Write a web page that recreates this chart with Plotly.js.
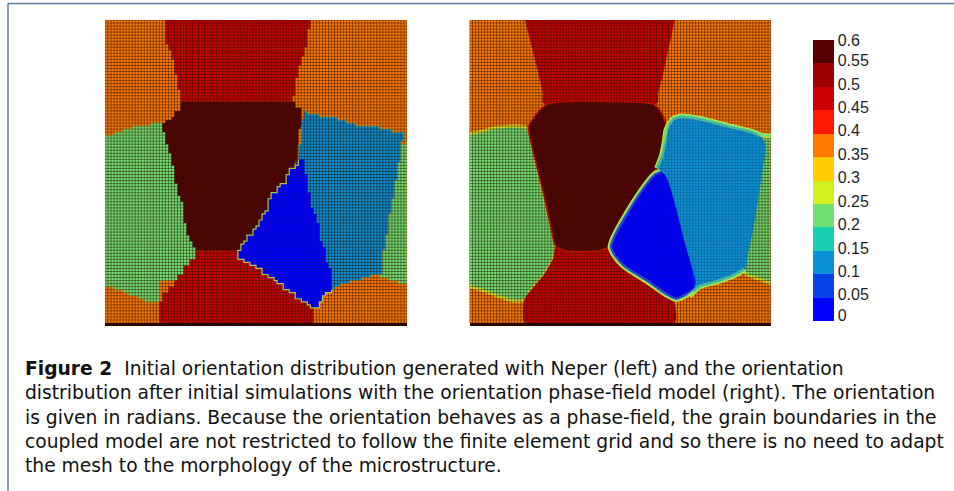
<!DOCTYPE html>
<html><head><meta charset="utf-8">
<script src="https://cdn.plot.ly/plotly-3.0.1.min.js"></script>
<style>html,body{margin:0;padding:0;background:#fff}#c{width:954px;height:491px}</style>
</head><body><div id="c"></div>
<script>
// Colour bar
const binColors=['#0000ff','#0a42ea','#0890d8','#18d0b0','#72e072','#d2f020','#ffcc00','#ff7800','#ff1800','#cc0000','#9c0000','#560000'];
const tickValues=[0,0.05,0.1,0.15,0.2,0.25,0.3,0.35,0.4,0.45,0.5,0.55,0.6];
const tickLabels=['0','0.05','0.1','0.15','0.2','0.25','0.3','0.35','0.4','0.45','0.5','0.55','0.6'];
// Grain orientations (radians)
const oOrange=0.375,oRed=0.475,oMaroon=0.575,oGreen=0.225,oCyan=0.125,oBlue=0.025;
const meshCells=100, domainW=906, domainH=910;

// Left panel grains (Neper)
const lTopRedX=[170,178,185,193,200,205,210,215,220,226,228,560,562,573,580,588,595,603,610,618];
const lTopRedY=[0,40,70,95,120,145,160,185,210,235,250,250,225,175,135,105,80,55,30,0];
const lGreenX=[0,15,30,50,70,85,100,120,140,160,175,300,300,160,145,130,115,100,85,70,50,30,15,0];
const lGreenY=[345,343,340,330,325,321,318,315,312,310,310,400,780,848,845,842,836,830,825,820,812,805,802,800];
const rGreenX=[890,906,906,890,875,850,825,770,820];
const rGreenY=[370,362,792,790,785,775,762,670,470];
const lBotRedX=[268,402,402,420,450,470,490,505,520,537,555,572,590,605,620,622,622,165,160,160,175,190,205,220,235,250,268];
const lBotRedY=[690,690,710,715,740,750,760,770,780,795,810,822,835,845,855,880,910,910,880,850,820,800,780,760,740,715,695];
const lMaroonX=[228,560,570,585,590,588,582,600,590,570,555,545,530,520,510,490,470,450,430,402,270,262,255,248,240,234,228,220,210,205,200,195,190,182,175,175,185,195,210,228];
const lMaroonY=[250,250,260,275,290,330,370,420,455,475,490,505,525,540,570,600,630,660,690,692,685,668,650,610,570,550,530,490,460,440,420,398,375,340,330,310,300,290,275,255];
const lCyanX=[595,607,620,640,660,680,700,725,750,780,820,860,900,895,890,885,880,875,870,860,855,840,832,800,770,730,710,685,600,575,582,590];
const lCyanY=[275,280,285,288,290,295,300,308,315,320,325,335,345,362,380,430,460,485,540,580,650,690,760,773,785,795,802,810,600,430,370,320];
const lBlueX=[582,595,600,605,610,620,626,632,639,645,652,660,665,670,676,683,682,675,665,652,640,620,605,590,572,555,537,520,505,490,470,450,435,420,402,402,411,420,430,440,450,460,470,480,490,502,515,527,540,548,555,570];
const lBlueY=[420,440,460,480,520,560,585,610,635,660,680,700,725,750,768,785,810,815,825,845,860,855,845,835,822,810,795,780,770,760,750,740,728,715,710,688,674,660,645,630,615,600,585,570,540,522,505,490,475,462,450,435];

// Right panel grains (phase-field)
const pTopRedX=[167,187,207,220,222,564,567,580,597,617];
const pTopRedY=[0,80,160,220,250,250,220,170,90,0];
const pGreenX=[0,32,82,162,177,197,222,242,257,252,227,187,162,137,102,62,0];
const pGreenY=[342,335,322,320,330,420,520,610,675,715,760,810,842,845,835,820,800];
const pGreenRX=[905,875,830,780,820,889,905];
const pGreenRY=[792,780,762,700,400,352,345];
const pBotRedX=[257,422,424,452,532,612,620,617,167,162,167,227,252];
const pBotRedY=[680,680,700,740,795,845,870,910,910,855,835,760,715];
const pMaroonX=[242,542,562,582,590,584,577,562,532,502,472,442,422,417,392,302,272,257,242,222,197,180,177,192,217,242];
const pMaroonY=[250,250,260,290,315,370,405,445,490,530,575,625,660,682,692,695,688,675,610,520,420,345,320,295,265,250];
const pCyanX=[597,612,632,692,772,852,877,889,882,867,852,837,827,802,752,692,672,670,667,647,622,602,587,572,562,577,590];
const pCyanY=[315,295,288,295,315,335,350,380,440,540,630,700,750,765,785,802,818,785,740,670,570,500,465,455,445,405,350];
const pCyanTopX=[562,577,584,590,597,612,632,692,772,852,877,905];
const pCyanTopY=[445,405,370,330,315,295,288,295,315,335,345,348];
const pCyanLowX=[827,802,752,692,662];
const pCyanLowY=[750,765,785,802,830];
const pBlueX=[572,587,602,622,647,667,679,672,647,622,597,532,462,432,422,432,462,502,542,557];
const pBlueY=[455,465,500,570,670,740,785,810,830,840,830,785,740,705,680,650,595,530,475,460];
const pBlueEdgeX=[572,557,542,502,462,432,422,432,462,532,597,622,647,672];
const pBlueEdgeY=[455,460,475,530,595,650,680,705,740,785,830,840,830,815];

const captionLines=[
 '<b>Figure 2</b>\u00a0\u00a0Initial orientation distribution generated with Neper (left) and the orientation',
 'distribution after initial simulations with the orientation phase-field model (right). The orientation',
 'is given in radians. Because the orientation behaves as a phase-field, the grain boundaries in the',
 'coupled model are not restricted to follow the finite element grid and so there is no need to adapt',
 'the mesh to the morphology of the microstructure.'];

const W=954,H=491;
const colorOf=v=>binColors[Math.min(binColors.length-1,Math.floor(v/0.05))];
const alpha=(hex,a)=>{const n=parseInt(hex.slice(1),16);return `rgba(${n>>16},${(n>>8)&255},${n&255},${a})`;};
const stepX=domainW/meshCells, stepY=domainH/meshCells;
const snapX=a=>a.map(v=>Math.round(v/stepX)*stepX), snapY=a=>a.map(v=>Math.round(v/stepY)*stepY);

const colorscale=[];
binColors.forEach((c,i)=>{colorscale.push([i/12,c]);colorscale.push([(i+1)/12,c]);});
const labelLift=(v,i)=>i===0?0.0113:(i===tickValues.length-1?0:0.006);

function base(ax,showBar){
 const t={type:'heatmap',z:[[oOrange]],x0:domainW/2,dx:domainW,y0:domainH/2,dy:domainH,zmin:0,zmax:0.6,
  colorscale,showscale:showBar,hoverinfo:'skip',xaxis:'x'+ax,yaxis:'y'+ax};
 if(showBar)t.colorbar={x:813/W,xanchor:'left',xpad:0,ypad:0,y:(H-321)/H,yanchor:'bottom',lenmode:'pixels',len:280.5,
  thicknessmode:'pixels',thickness:21,outlinewidth:0,ticks:'',ticklen:0,tickmode:'array',
  tickvals:tickValues.map((v,i)=>v+labelLift(v,i)),ticktext:tickLabels,
  tickfont:{family:'Liberation Sans',size:16,color:'#1e1e1e'}};
 return t;
}
function grain(ax,x,y,val,o={}){
 return {type:'scatter',mode:o.w?'lines':'none',x:x,y:y,fill:'toself',fillcolor:alpha(colorOf(val),o.a===undefined?1:o.a),
  line:{color:o.c||colorOf(val),width:o.w||0,shape:o.shape||'linear',smoothing:o.sm||0.7},
  hoverinfo:'skip',xaxis:'x'+ax,yaxis:'y'+ax};
}
const stair=(ax,x,y,val,o={})=>grain(ax,snapX(x),snapY(y),val,Object.assign({shape:'hv'},o));
const soft=(ax,x,y,val,o={})=>grain(ax,x,y,val,Object.assign({shape:'spline'},o));
function edge(ax,x,y,color,w,shape='spline'){
 return {type:'scatter',mode:'lines',x:x,y:y,line:{color:color,width:w,shape:shape,smoothing:0.7},hoverinfo:'skip',xaxis:'x'+ax,yaxis:'y'+ax};
}
function mesh(ax){
 const x=[],y=[];
 for(let i=0;i<=meshCells;i++){x.push(i*stepX,i*stepX,null);y.push(0,domainH,null);}
 for(let j=0;j<=meshCells;j++){x.push(0,domainW,null);y.push(j*stepY,j*stepY,null);}
 return {type:'scatter',mode:'lines',x:x,y:y,line:{color:'rgba(40,20,5,0.55)',width:0.9},hoverinfo:'skip',xaxis:'x'+ax,yaxis:'y'+ax};
}
const yel='#e4e420';
const halo=(ax,x,y)=>[edge(ax,x,y,yel,4.5),edge(ax,x,y,'#72e072',3)];
const rimX=snapX(lBlueX.slice(16).concat(lBlueX[0])), rimY=snapY(lBlueY.slice(16).concat(lBlueY[0]));
const data=[
 base('',true),
 stair('',lTopRedX.concat(lTopRedX[0]),lTopRedY.concat(lTopRedY[0]),oRed),
 stair('',lGreenX,lGreenY,oGreen,{c:'#c4d438',w:1}),
 stair('',rGreenX,rGreenY,oGreen,{c:'#c4d438',w:1}),
 stair('',lBotRedX,lBotRedY,oRed),
 stair('',lMaroonX,lMaroonY,oMaroon),
 stair('',lCyanX,lCyanY,oCyan,{c:'#a8d060',w:1}),
 stair('',lBlueX,lBlueY,oBlue),
 mesh(''),
 stair('',lBlueX,lBlueY,oBlue,{a:0.6}),
 edge('',rimX,rimY,'#a8c840',1.2,'hv'),

 base('2',false),
 soft('2',pTopRedX,pTopRedY,oRed),
 soft('2',pGreenX,pGreenY,oGreen,{c:yel,w:3.2}),
 soft('2',pGreenRX,pGreenRY,oGreen,{c:yel,w:3.2}),
 soft('2',pBotRedX,pBotRedY,oRed),
 soft('2',pMaroonX,pMaroonY,oMaroon,{c:'#e01000',w:1.6}),
 soft('2',pCyanX,pCyanY,oCyan),
 soft('2',pBlueX,pBlueY,oBlue),
 mesh('2'),
 ...halo('2',pCyanTopX,pCyanTopY),
 ...halo('2',pCyanLowX,pCyanLowY),
 soft('2',pCyanX,pCyanY,oCyan,{a:0.55}),
 ...halo('2',pBlueEdgeX,pBlueEdgeY),
 soft('2',pBlueX,pBlueY,oBlue,{a:0.7})
];
const axis=(dom)=>({domain:dom,range:[0,domainW],showgrid:false,zeroline:false,showticklabels:false,ticks:'',
  showline:true,linecolor:'#2a0803',linewidth:2.5,layer:'above traces',fixedrange:true});
const yaxis=(a)=>({domain:[1-323/H,1-20/H],range:[domainH,0],showgrid:false,zeroline:false,showticklabels:false,ticks:'',anchor:a,fixedrange:true});
const layout={width:W,height:H,margin:{l:0,r:0,t:0,b:0},paper_bgcolor:'#fff',plot_bgcolor:'#fff',showlegend:false,
 xaxis:Object.assign(axis([105/W,407/W]),{anchor:'y'}),yaxis:yaxis('x'),
 xaxis2:Object.assign(axis([469.5/W,771/W]),{anchor:'y2'}),yaxis2:yaxis('x2'),
 shapes:[
  {type:'line',xref:'paper',yref:'paper',x0:8/W,x1:8/W,y0:0,y1:1-3.5/H,line:{color:'#5c7e9c',width:1.5}},
  {type:'line',xref:'paper',yref:'paper',x0:8/W,x1:1,y0:1-3.5/H,y1:1-3.5/H,line:{color:'#5c7e9c',width:1.5}}
 ],
 annotations:[{xref:'paper',yref:'paper',x:23/W,y:1-417/H,xanchor:'left',yanchor:'middle',align:'left',
   showarrow:false,text:captionLines.join('<br>'),font:{family:'DejaVu Sans',size:18.7,color:'#111'}}]
};
Plotly.newPlot('c',data,layout,{staticPlot:true,displayModeBar:false});
</script></body></html>
